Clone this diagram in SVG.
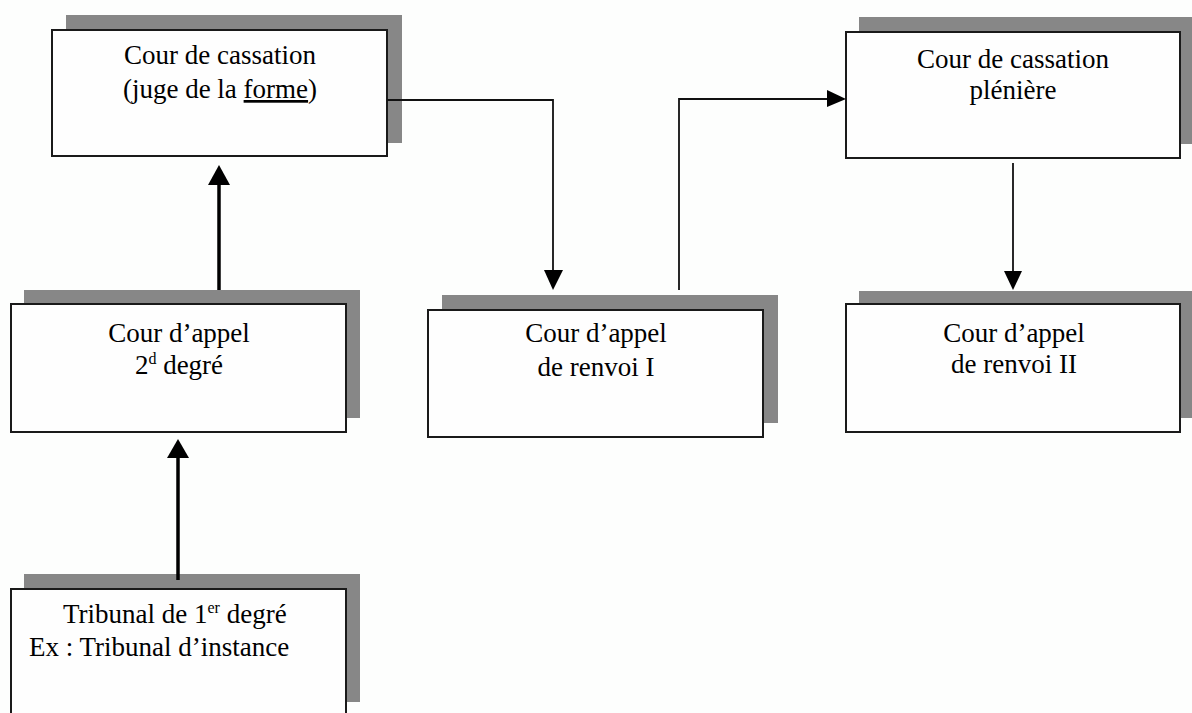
<svg xmlns="http://www.w3.org/2000/svg" width="1192" height="713" viewBox="0 0 1192 713">
<style>
  .shadow { fill: #878787; }
  .box { fill: #fefefe; stroke: #1a1a1a; stroke-width: 2; }
  .t { font-family: "Liberation Serif", "Times New Roman", serif; font-size: 27px; fill: #000; }
  .c { text-anchor: middle; }
  .thin { fill: none; stroke: #111; stroke-width: 1.8; }
  .thick { fill: none; stroke: #000; stroke-width: 3.5; }
  .head { fill: #000; }
  .sup { font-size: 16px; }
</style>
<rect width="1192" height="713" fill="#fdfefd"/>

<g id="cassation">
  <rect class="shadow" x="66" y="15" width="336" height="128"/>
  <rect class="box" x="52" y="30" width="335" height="126"/>
  <text class="t c" x="220" y="64">Cour de cassation</text>
  <text class="t c" x="220" y="98">(juge de la <tspan text-decoration="underline">forme</tspan>)</text>
</g>

<g id="appel2">
  <rect class="shadow" x="24" y="290" width="336" height="128"/>
  <rect class="box" x="11" y="304" width="335" height="128"/>
  <text class="t c" x="179" y="342">Cour d’appel</text>
  <text class="t c" x="179" y="374">2<tspan class="sup" dy="-10">d</tspan><tspan dy="10"> degré</tspan></text>
</g>

<g id="tribunal">
  <rect class="shadow" x="24" y="574" width="336" height="128"/>
  <rect class="box" x="11" y="589" width="335" height="140"/>
  <text class="t" x="63" y="623">Tribunal de 1<tspan class="sup" dy="-10">er</tspan><tspan dy="10"> degré</tspan></text>
  <text class="t" x="29" y="656">Ex : Tribunal d’instance</text>
</g>

<g id="renvoi1">
  <rect class="shadow" x="442" y="295" width="336" height="128"/>
  <rect class="box" x="428" y="310" width="335" height="127"/>
  <text class="t c" x="596" y="342">Cour d’appel</text>
  <text class="t c" x="596" y="376">de renvoi I</text>
</g>

<g id="pleniere">
  <rect class="shadow" x="859" y="17" width="340" height="127"/>
  <rect class="box" x="846" y="32" width="334" height="126"/>
  <text class="t c" x="1013" y="68">Cour de cassation</text>
  <text class="t c" x="1013" y="99">plénière</text>
</g>

<g id="renvoi2">
  <rect class="shadow" x="859" y="291" width="340" height="127"/>
  <rect class="box" x="846" y="304" width="334" height="128"/>
  <text class="t c" x="1014" y="342">Cour d’appel</text>
  <text class="t c" x="1014" y="373">de renvoi II</text>
</g>

<g id="connectors">
  <line class="thick" x1="219" y1="290" x2="219" y2="182"/>
  <polygon class="head" points="219,165 208,185 230,185"/>

  <line class="thick" x1="178" y1="580" x2="178" y2="455"/>
  <polygon class="head" points="178,439 167,458 189,458"/>

  <polyline class="thin" points="387,100 553,100 553,272"/>
  <polygon class="head" points="553,290 544,270 563,270"/>

  <polyline class="thin" points="679,290 679,99 829,99"/>
  <polygon class="head" points="846,99 827,90 827,107"/>

  <line class="thin" x1="1013" y1="163" x2="1013" y2="272"/>
  <polygon class="head" points="1013,290 1004,271 1022,271"/>
</g>
</svg>
